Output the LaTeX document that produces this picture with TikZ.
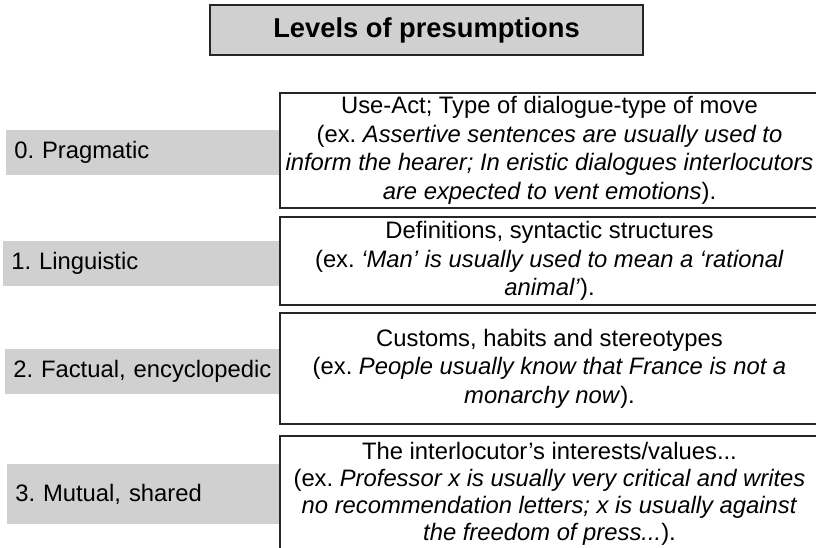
\documentclass[tikz,border=0pt]{standalone}
\usepackage{fontspec}
\setmainfont{Liberation Sans}
\usepackage{xcolor}
\usetikzlibrary{calc}
\definecolor{boxgray}{HTML}{D0D0D0}
\definecolor{edgegray}{HTML}{262626}

\begin{document}
\frenchspacing
\hyphenpenalty=10000\relax
\begin{tikzpicture}[x=1pt,y=-1pt,
  titlebox/.style={draw=edgegray,line width=1.5pt,fill=boxgray,minimum width=433pt,minimum height=50pt,
                   font=\fontsize{27.3}{32}\selectfont\bfseries},
  levelbox/.style={fill=boxgray,anchor=east,inner xsep=8pt,align=left,minimum height=45pt,
                   font=\fontsize{23.8}{28.5}\selectfont},
  descbox/.style={draw=edgegray,line width=1.5pt,fill=white,minimum width=539pt,align=center,
                  font=\fontsize{23.8}{28.5}\selectfont}]
\useasboundingbox (0,0) rectangle (816,548);

%title
\node[titlebox] (title) at (426.5,30) {Levels of presumptions};

%levels
\node[levelbox,text width=258pt] (lev0) at (280.5,152.5) {0. Pragmatic};
\node[levelbox,text width=261pt] (lev1) at (280.5,263.5) {1. Linguistic};
\node[levelbox,text width=259pt] (lev2) at (280.5,371.5) {2. Factual, encyclopedic};
\node[levelbox,text width=257pt,minimum height=60pt] (lev3) at (280.5,494) {3. Mutual, shared};

%descriptions
\node[descbox,minimum height=115pt] (desc0) at (549.5,150.5)
  {Use-Act; Type of dialogue-type of move\\
   (ex. \textit{Assertive sentences are usually used to}\\
   \textit{inform the hearer; In eristic dialogues interlocutors}\\
   \textit{are expected to vent emotions}).};
\node[descbox,minimum height=88pt] (desc1) at (549.5,261)
  {Definitions, syntactic structures\\
   (ex. \textit{‘Man’ is usually used to mean a ‘rational}\\
   \textit{animal’}).};
\node[descbox,minimum height=111pt] (desc2) at (549.5,368.5)
  {Customs, habits and stereotypes\\
   (ex. \textit{People usually know that France is not a}\\
   \textit{monarchy now}).};
\node[descbox,minimum height=116pt,font=\fontsize{23.8}{26.8}\selectfont] (desc3) at (549.5,494)
  {The interlocutor’s interests/values...\\
   (ex. \textit{Professor x is usually very critical and writes}\\
   \textit{no recommendation letters; x is usually against}\\
   \textit{the freedom of press...}).};
\end{tikzpicture}
\end{document}
